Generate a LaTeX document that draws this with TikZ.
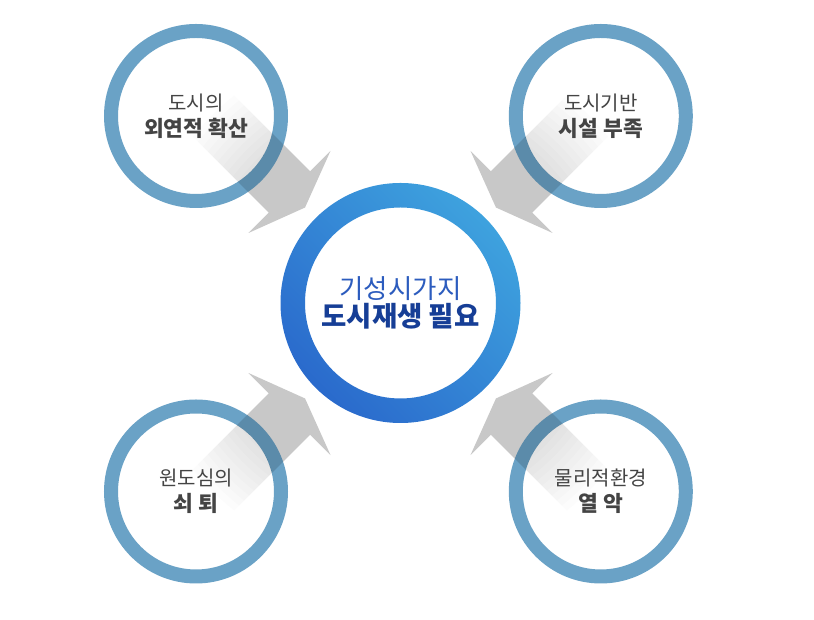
\documentclass[tikz,border=0pt]{standalone}
\usepackage{fontspec}
\setmainfont{Noto Sans CJK KR}
\usepackage{xcolor}
\usetikzlibrary{calc,backgrounds}

\definecolor{ringblue}{RGB}{106,162,198}
\definecolor{arrowgray}{RGB}{200,200,200}
\definecolor{hubdark}{RGB}{42,106,204}
\definecolor{hublight}{RGB}{62,162,222}
\definecolor{hubtext}{RGB}{44,92,190}
\definecolor{hubbold}{RGB}{22,62,150}
\definecolor{labelgray}{RGB}{68,68,68}

\newcommand{\fatarrowpath}{(135,0) -- (157,58) -- (157,29.3) -- (300,29.3) -- (300,-29.3) -- (157,-29.3) -- (157,-58) -- cycle}

\begin{document}
\begin{tikzpicture}[
  x=1pt, y=1pt,
  cause/.style={circle, minimum size=170pt, inner sep=0pt, draw=ringblue, line width=14pt, fill=white},
  causetext/.style={align=center, text=labelgray, font=\fontsize{20}{26}\selectfont},
  hub/.style={circle, minimum size=191pt, inner sep=0pt, fill=white, align=center},
  arr/.style={fill=arrowgray},
]
\useasboundingbox (0,0) rectangle (814,620);
\node[hub] (hub) at (400.5,317) {{\color{hubtext}\fontsize{26.5}{34}\selectfont 기성시가지}\\[1pt]{\color{hubbold}\bfseries\fontsize{27.5}{34}\selectfont 도시재생 필요}};
\shade[even odd rule, top color=hublight, bottom color=hubdark, shading angle=-45] (hub.center) circle (120) (hub.center) circle (95.5);
\node[cause] (sprawl) at ($(hub.center)+(-204.5,187)$) {};
\node[cause] (infra) at ($(hub.center)+(200.3,187)$) {};
\node[cause] (decline) at ($(hub.center)+(-204.5,-188.5)$) {};
\node[cause] (env) at ($(hub.center)+(200.3,-188.5)$) {};
\begin{pgfonlayer}{background}
  \foreach \ang in {135,45,225,315}
    \fill[arr, shift={(hub.center)}, rotate=\ang] \fatarrowpath;
\end{pgfonlayer}
\foreach \ang/\src in {135/sprawl,45/infra,225/decline,315/env}{
  \begin{scope}
    \clip[shift={(hub.center)}, rotate=\ang] \fatarrowpath;
    \fill[black, opacity=0.14, even odd rule] (\src.center) circle (92) (\src.center) circle (78);
    \begin{scope}
      \clip (\src.center) circle (78);
      \foreach \d in {196,203,...,266}
        \fill[black, opacity=0.011] (hub.center) circle (\d);
    \end{scope}
  \end{scope}
}
\node[causetext] (sprawltext) at (sprawl) {도시의\\{\bfseries\fontsize{21.5}{26}\selectfont 외연적 확산}};
\node[causetext] (infratext) at (infra) {도시기반\\{\bfseries\fontsize{21.5}{26}\selectfont 시설 부족}};
\node[causetext] (declinetext) at (decline) {원도심의\\{\bfseries\fontsize{21.5}{26}\selectfont 쇠 퇴}};
\node[causetext] (envtext) at (env) {물리적환경\\{\bfseries\fontsize{21.5}{26}\selectfont 열 악}};
\end{tikzpicture}
\end{document}
